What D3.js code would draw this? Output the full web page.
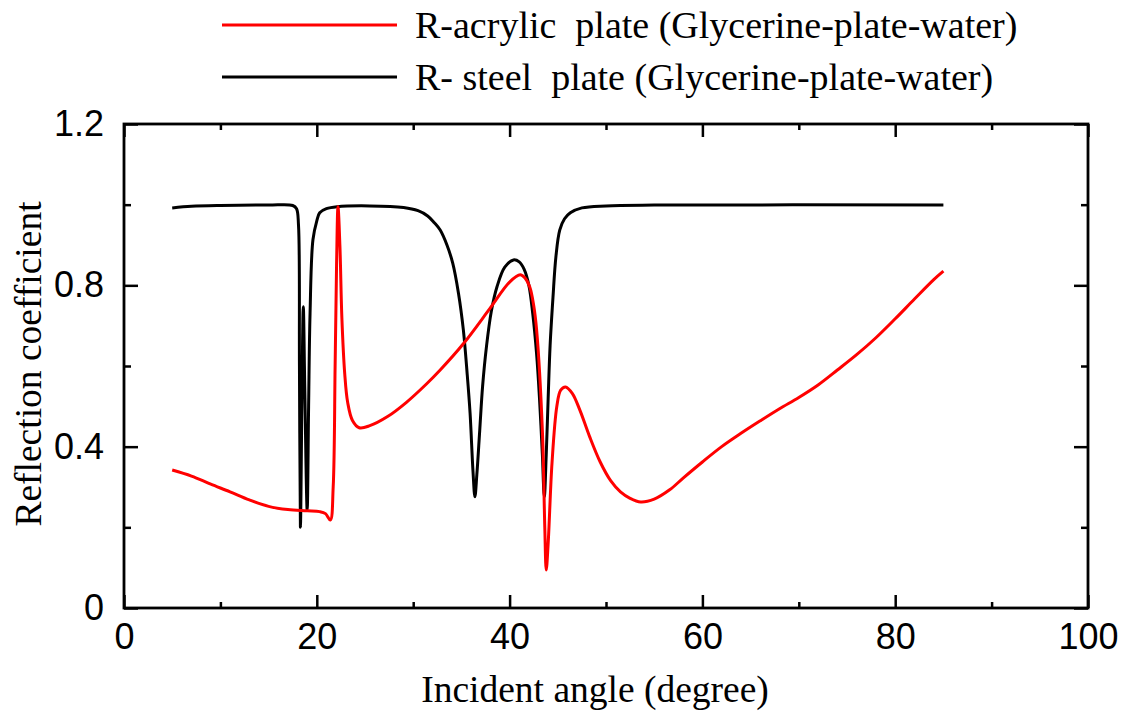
<!DOCTYPE html>
<html>
<head>
<meta charset="utf-8">
<script src="https://cdn.jsdelivr.net/npm/d3@7"></script>
<style>
  html, body { margin: 0; padding: 0; background: #fff; }
  svg { display: block; }
</style>
</head>
<body>
<svg id="chart" width="1126" height="713"></svg>
<script>
// ---- data ----
const angleAcrylic = [5, 7, 9, 11, 13, 15, 17, 19, 20.3, 20.9, 21.4, 21.7, 21.9, 22.05, 22.2, 22.4, 22.6, 22.9, 23.2, 23.7, 24.4, 25.5, 27.3, 29.3, 31.4, 32.8, 35.2, 38, 40, 41.1, 41.6, 42.1, 42.5, 42.8, 43.4, 43.65, 43.8, 44.0, 44.4, 44.9, 45.3, 45.8, 46.5, 47.3, 48.3, 49.4, 50.5, 51.5, 52.5, 53.6, 55, 56.6, 58, 60, 62, 64, 66, 68, 70, 72, 74, 76, 78, 80, 82, 84, 85];
const rAcrylic     = [0.342, 0.327, 0.307, 0.288, 0.268, 0.252, 0.244, 0.241, 0.239, 0.234, 0.218, 0.30, 0.60, 0.85, 0.995, 0.896, 0.72, 0.58, 0.51, 0.465, 0.447, 0.452, 0.474, 0.51, 0.556, 0.59, 0.655, 0.744, 0.808, 0.826, 0.818, 0.795, 0.75, 0.69, 0.44, 0.2, 0.094, 0.16, 0.36, 0.5, 0.54, 0.548, 0.532, 0.49, 0.425, 0.362, 0.315, 0.288, 0.272, 0.263, 0.27, 0.293, 0.322, 0.362, 0.4, 0.433, 0.464, 0.494, 0.522, 0.553, 0.59, 0.628, 0.67, 0.717, 0.766, 0.814, 0.835];

const angleSteel = [5, 7, 10, 15, 17.5, 17.9, 18.1, 18.2, 18.3, 18.45, 18.6, 18.75, 19.0, 19.15, 19.3, 19.6, 20.0, 20.3, 21, 22.1, 25.5, 29, 30.5, 31.5, 32.2, 32.8, 33.5, 34.1, 34.7, 35.2, 35.6, 35.9, 36.2, 36.4, 36.6, 36.9, 37.2, 37.6, 38.1, 38.7, 39.5, 40.4, 41.0, 41.5, 42.0, 42.4, 42.8, 43.1, 43.4, 43.6, 43.8, 44.0, 44.2, 44.5, 44.8, 45.2, 45.7, 46.3, 47.5, 50, 55, 85];
const rSteel     = [0.992, 0.996, 0.998, 0.999, 0.998, 0.99, 0.95, 0.6, 0.2, 0.5, 0.747, 0.55, 0.243, 0.5, 0.73, 0.913, 0.96, 0.98, 0.99, 0.995, 0.997, 0.993, 0.985, 0.972, 0.955, 0.937, 0.9, 0.855, 0.78, 0.69, 0.58, 0.483, 0.34, 0.276, 0.33, 0.44, 0.55, 0.648, 0.735, 0.797, 0.845, 0.863, 0.858, 0.84, 0.8, 0.73, 0.63, 0.52, 0.38, 0.276, 0.38, 0.52, 0.65, 0.77, 0.87, 0.937, 0.965, 0.98, 0.992, 0.997, 0.999, 0.999];

const xMajorTicks = [0, 20, 40, 60, 80, 100];
const xMinorTicks = [10, 30, 50, 70, 90];
const yMajorTicks = [0, 0.4, 0.8, 1.2];
const yMinorTicks = [0.2, 0.6, 1.0];
const yTickLabels = ["0", "0.4", "0.8", "1.2"];

const seriesNames = ["R-acrylic  plate (Glycerine-plate-water)", "R- steel  plate (Glycerine-plate-water)"];
const seriesColors = ["#ff0000", "#000000"];

const xLabel = "Incident angle (degree)";
const yLabel = "Reflection coefficient";

// ---- layout ----
const svg = d3.select("#chart");
const m = { left: 124, top: 124, right: 38, bottom: 105 };
const W = 1126 - m.left - m.right;  // 964
const H = 713 - m.top - m.bottom;   // 484

const x = d3.scaleLinear().domain([0, 100]).range([0, W]);
const y = d3.scaleLinear().domain([0, 1.2]).range([H, 0]);

const g = svg.append("g").attr("transform", `translate(${m.left},${m.top})`);

const tickFont = 36;
function styleAxis(sel) {
  sel.select(".domain").remove();
  sel.selectAll(".tick line").attr("stroke", "#000").attr("stroke-width", 2.5);
  sel.selectAll(".tick text").attr("fill", "#000").style("font-size", tickFont + "px")
     .style("font-family", '"Liberation Sans", Arial, sans-serif');
}

// bottom
g.append("g").attr("transform", `translate(0,${H})`)
  .call(d3.axisBottom(x).tickValues(xMajorTicks).tickSize(-13).tickPadding(15).tickFormat(d3.format("d")))
  .call(styleAxis);
g.append("g").attr("transform", `translate(0,${H})`)
  .call(d3.axisBottom(x).tickValues(xMinorTicks).tickSize(-6).tickFormat(""))
  .call(styleAxis);
// top
g.append("g")
  .call(d3.axisTop(x).tickValues(xMajorTicks).tickSize(-13).tickFormat(""))
  .call(styleAxis);
g.append("g")
  .call(d3.axisTop(x).tickValues(xMinorTicks).tickSize(-6).tickFormat(""))
  .call(styleAxis);
// left
g.append("g")
  .call(d3.axisLeft(y).tickValues(yMajorTicks).tickSize(-14).tickPadding(20)
        .tickFormat((d, i) => yTickLabels[i]))
  .call(styleAxis);
g.append("g")
  .call(d3.axisLeft(y).tickValues(yMinorTicks).tickSize(-7).tickFormat(""))
  .call(styleAxis);
// right
g.append("g").attr("transform", `translate(${W},0)`)
  .call(d3.axisRight(y).tickValues(yMajorTicks).tickSize(-14).tickFormat(""))
  .call(styleAxis);
g.append("g").attr("transform", `translate(${W},0)`)
  .call(d3.axisRight(y).tickValues(yMinorTicks).tickSize(-7).tickFormat(""))
  .call(styleAxis);

// frame
g.append("rect").attr("x", 0).attr("y", 0).attr("width", W).attr("height", H)
  .attr("fill", "none").attr("stroke", "#000").attr("stroke-width", 2.8);

// lines
const line = d3.line().x(d => x(d[0])).y(d => y(d[1])).curve(d3.curveCatmullRom.alpha(0.5));
const acrylicData = angleAcrylic.map((a, i) => [a, rAcrylic[i]]);
const steelData = angleSteel.map((a, i) => [a, rSteel[i]]);

g.append("path").datum(steelData).attr("d", line)
  .attr("fill", "none").attr("stroke", seriesColors[1]).attr("stroke-width", 3)
  .attr("stroke-linejoin", "round");
g.append("path").datum(acrylicData).attr("d", line)
  .attr("fill", "none").attr("stroke", seriesColors[0]).attr("stroke-width", 3)
  .attr("stroke-linejoin", "round");

// axis titles
const serif = '"Liberation Serif", "Times New Roman", serif';
svg.append("text").attr("x", 595).attr("y", 702)
  .attr("text-anchor", "middle")
  .style("font-family", serif).style("font-size", "37.5px")
  .text(xLabel);
svg.append("text").attr("transform", `translate(41,364) rotate(-90)`)
  .attr("text-anchor", "middle")
  .style("font-family", serif).style("font-size", "37.5px")
  .text(yLabel);

// legend
const legendY = [25, 77];
seriesNames.forEach((name, i) => {
  svg.append("line").attr("x1", 222).attr("x2", 397).attr("y1", legendY[i]).attr("y2", legendY[i])
    .attr("stroke", seriesColors[i]).attr("stroke-width", 3);
  svg.append("text").attr("x", 415).attr("y", legendY[i] + 13)
    .style("font-family", serif).style("font-size", "38px")
    .style("white-space", "pre")
    .text(name);
});
</script>
</body>
</html>
